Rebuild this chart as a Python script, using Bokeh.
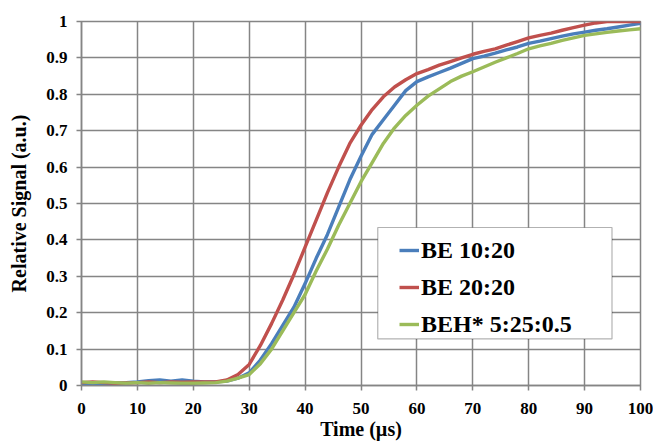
from bokeh.plotting import figure
from bokeh.models import Legend, LegendItem, BoxAnnotation, FixedTicker, Range1d
from bokeh.embed import file_html
from bokeh.resources import INLINE

time_us = [0, 2, 4, 6, 8, 10, 12, 14, 16, 18, 20, 22, 24, 26, 28, 30, 32, 34, 36, 38,
           40, 42, 44, 46, 48, 50, 52, 54, 56, 58, 60, 62, 64, 66, 68, 70, 72, 74, 76, 78,
           80, 82, 84, 86, 88, 90, 92, 94, 96, 98, 100]

be_10_20 = [0.005, 0.006, 0.005, 0.007, 0.008, 0.010, 0.013, 0.015, 0.012, 0.015, 0.012,
            0.010, 0.010, 0.012, 0.020, 0.035, 0.070, 0.115, 0.165, 0.215, 0.280, 0.350,
            0.415, 0.490, 0.565, 0.630, 0.690, 0.730, 0.770, 0.810, 0.835, 0.848, 0.860,
            0.872, 0.885, 0.898, 0.905, 0.913, 0.922, 0.930, 0.940, 0.946, 0.953, 0.960,
            0.966, 0.971, 0.976, 0.980, 0.985, 0.990, 0.995]

be_20_20 = [0.008, 0.010, 0.008, 0.006, 0.007, 0.008, 0.010, 0.008, 0.010, 0.009, 0.010,
            0.010, 0.010, 0.015, 0.030, 0.058, 0.110, 0.170, 0.235, 0.305, 0.380, 0.455,
            0.530, 0.600, 0.665, 0.715, 0.758, 0.793, 0.820, 0.840, 0.857, 0.868, 0.880,
            0.890, 0.900, 0.910, 0.918, 0.925, 0.935, 0.945, 0.955, 0.962, 0.968, 0.976,
            0.983, 0.990, 0.996, 1.000, 1.000, 1.000, 1.000]

beh_5_25 = [0.010, 0.008, 0.010, 0.008, 0.006, 0.008, 0.006, 0.008, 0.007, 0.006, 0.006,
            0.007, 0.008, 0.012, 0.020, 0.030, 0.060, 0.100, 0.150, 0.200, 0.250, 0.315,
            0.375, 0.440, 0.500, 0.560, 0.612, 0.665, 0.708, 0.742, 0.770, 0.795, 0.815,
            0.835, 0.850, 0.862, 0.875, 0.888, 0.900, 0.912, 0.925, 0.933, 0.940, 0.948,
            0.955, 0.962, 0.966, 0.970, 0.974, 0.977, 0.980]

series_names = ["BE 10:20", "BE 20:20", "BEH* 5:25:0.5"]
series_colors = ["#4A7EBB", "#C0504D", "#9BBB59"]

x_ticks = [0, 10, 20, 30, 40, 50, 60, 70, 80, 90, 100]
y_ticks = [0, 0.1, 0.2, 0.3, 0.4, 0.5, 0.6, 0.7, 0.8, 0.9, 1.0]
y_tick_labels = ["0", "0.1", "0.2", "0.3", "0.4", "0.5", "0.6", "0.7", "0.8", "0.9", "1"]

FONT = "'Liberation Serif', serif"
GRID = "#858585"

p = figure(width=653, height=442, output_backend="svg", toolbar_location=None,
           x_range=Range1d(0, 100), y_range=Range1d(0, 1),
           min_border_left=81, min_border_right=13, min_border_top=21, min_border_bottom=55)
p.background_fill_color = "white"
p.border_fill_color = "white"
p.outline_line_color = GRID
p.outline_line_width = 1.5

for ax in (p.xaxis[0], p.yaxis[0]):
    ax.axis_line_color = GRID
    ax.axis_line_width = 1.5
    ax.major_tick_line_color = GRID
    ax.major_tick_line_width = 1.5
    ax.major_tick_in = 0
    ax.major_tick_out = 5
    ax.minor_tick_line_color = None
    ax.major_label_text_font = FONT
    ax.major_label_text_font_style = "bold"
    ax.major_label_text_font_size = "17px"
    ax.major_label_text_color = "black"
    ax.axis_label_text_font = FONT
    ax.axis_label_text_font_style = "bold"
    ax.axis_label_text_font_size = "20px"
    ax.axis_label_text_color = "black"

p.xaxis[0].ticker = FixedTicker(ticks=x_ticks)
p.yaxis[0].ticker = FixedTicker(ticks=y_ticks)
p.yaxis[0].major_label_overrides = {t: l for t, l in zip(y_ticks, y_tick_labels)}
p.xaxis[0].axis_label = "Time (µs)"
p.yaxis[0].axis_label = "Relative Signal (a.u.)"
p.xaxis[0].major_label_standoff = 12
p.yaxis[0].major_label_standoff = 9
p.xaxis[0].axis_label_standoff = 1
p.yaxis[0].axis_label_standoff = 13

p.xgrid[0].ticker = FixedTicker(ticks=x_ticks)
p.ygrid[0].ticker = FixedTicker(ticks=y_ticks)
for g in (p.xgrid[0], p.ygrid[0]):
    g.grid_line_color = GRID
    g.grid_line_width = 1.5

renderers = []
for ys, c in zip([be_10_20, be_20_20, beh_5_25], series_colors):
    r = p.line(time_us, ys, line_color=c, line_width=3.4, line_join="round")
    renderers.append(r)

box = BoxAnnotation(left=53.0, right=94.9, bottom=0.128, top=0.434,
                    fill_color="white", fill_alpha=1.0,
                    line_color="black", line_width=1.2)
p.add_layout(box)

legend = Legend(items=[LegendItem(label=n, renderers=[r]) for n, r in zip(series_names, renderers)],
                location=(318, 47), padding=5, spacing=9, margin=0,
                label_text_font=FONT, label_text_font_style="bold",
                label_text_font_size="24px", label_text_color="black",
                label_height=28, glyph_height=28, glyph_width=20, label_standoff=2,
                border_line_color=None, background_fill_alpha=0)
p.add_layout(legend)

open("out.html", "w").write(file_html(p, INLINE))
